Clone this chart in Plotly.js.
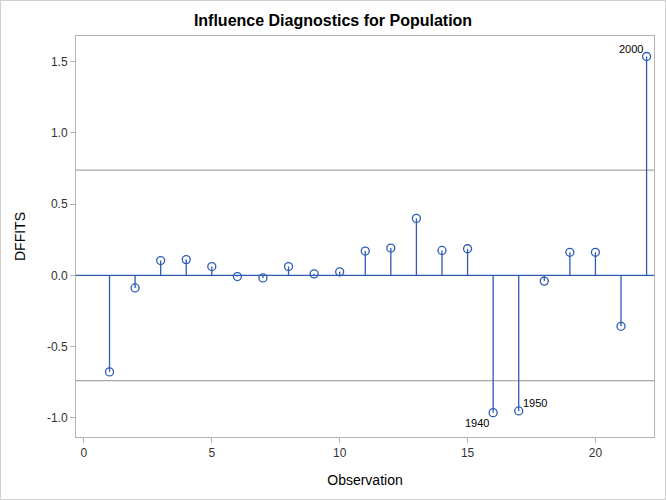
<!DOCTYPE html>
<html>
<head>
<meta charset="utf-8">
<script src="https://cdn.plot.ly/plotly-3.0.1.min.js"></script>
<style>
  html, body { margin: 0; padding: 0; background: #fff; }
  #wrap { position: relative; width: 666px; height: 500px; }
  #chart { width: 666px; height: 500px; }
  #border { position: absolute; left: 0; top: 0; width: 664px; height: 498px; border: 1px solid #d0d0d0; pointer-events: none; }
</style>
</head>
<body>
<div id="wrap"><div id="chart"></div><div id="border"></div></div>
<script>
// Data
const observations = [1,2,3,4,5,6,7,8,9,10,11,12,13,14,15,16,17,18,19,20,21,22];
const dffits = [-0.677,-0.088,0.104,0.111,0.062,-0.008,-0.018,0.062,0.011,0.025,
                0.171,0.192,0.400,0.175,0.187,-0.963,-0.951,-0.040,0.162,0.162,-0.357,1.536];
const cutoff = 0.7385; // 2*sqrt(p/n)
const labelObs = [16, 17, 22];
const labelText = ["1940", "1950", "2000"];

const blue = "#2D5BB5";
const gray = "#A8A8A8";

// needles built from the data arrays
const nx = [], ny = [];
observations.forEach((o, i) => { nx.push(o, o, null); ny.push(0, dffits[i], null); });

const traces = [
  { x: nx, y: ny, type: "scatter", mode: "lines", line: { color: blue, width: 1.3 },
    hoverinfo: "skip", showlegend: false },
  { x: observations, y: dffits, type: "scatter", mode: "markers",
    marker: { symbol: "circle-open", size: 8, color: blue, line: { width: 1.3, color: blue } },
    showlegend: false }
];

const labelPos = {
  "1940": { xanchor: "right", yanchor: "top", xshift: -2, yshift: -2 },
  "1950": { xanchor: "left", yanchor: "bottom", xshift: 2, yshift: 0 },
  "2000": { xanchor: "right", yanchor: "bottom", xshift: -2, yshift: 0 }
};
const annotations = labelObs.map((o, k) => Object.assign({
  x: o, y: dffits[observations.indexOf(o)], xref: "x", yref: "y",
  text: labelText[k], showarrow: false,
  font: { family: "Liberation Sans, Arial, sans-serif", size: 11, color: "#000" }
}, labelPos[labelText[k]]));

const layout = {
  width: 666, height: 500,
  margin: { l: 76, r: 12, t: 36, b: 62.5 },
  paper_bgcolor: "#fff", plot_bgcolor: "#fff",
  font: { family: "Liberation Sans, Arial, sans-serif", size: 12, color: "#000" },
  title: { text: "<b>Influence Diagnostics for Population</b>", x: 0.5, xanchor: "center",
           y: 0.96, yanchor: "middle", yref: "container",
           font: { family: "Liberation Sans, Arial, sans-serif", size: 16, color: "#000" } },
  xaxis: {
    range: [-0.31, 22.29], tickvals: [0, 5, 10, 15, 20], ticktext: ["0","5","10","15","20"],
    showgrid: false, zeroline: false, showline: true, mirror: true, linecolor: "#b4b4b4", linewidth: 1,
    ticks: "outside", ticklen: 5, tickcolor: "#b4b4b4",
    tickfont: { size: 12, color: "#333" },
    title: { text: "Observation", font: { size: 14, color: "#000" }, standoff: 15 }
  },
  yaxis: {
    range: [-1.134, 1.68], tickvals: [-1, -0.5, 0, 0.5, 1, 1.5],
    ticktext: ["-1.0","-0.5","0.0","0.5","1.0","1.5"],
    showgrid: false, zeroline: false, showline: true, mirror: true, linecolor: "#b4b4b4", linewidth: 1,
    ticks: "outside", ticklen: 5, tickcolor: "#b4b4b4",
    tickfont: { size: 12, color: "#333" },
    title: { text: "DFFITS", font: { size: 14, color: "#000" }, standoff: 18 }
  },
  shapes: [
    { type: "line", xref: "paper", x0: 0, x1: 1, yref: "y", y0: cutoff, y1: cutoff, line: { color: gray, width: 1.2 }, layer: "below" },
    { type: "line", xref: "paper", x0: 0, x1: 1, yref: "y", y0: -cutoff, y1: -cutoff, line: { color: gray, width: 1.2 }, layer: "below" },
    { type: "line", xref: "paper", x0: 0, x1: 1, yref: "y", y0: 0, y1: 0, line: { color: blue, width: 1.3 }, layer: "below" }
  ],
  annotations: annotations
};

Plotly.newPlot("chart", traces, layout, { displayModeBar: false, staticPlot: true });
</script>
</body>
</html>
